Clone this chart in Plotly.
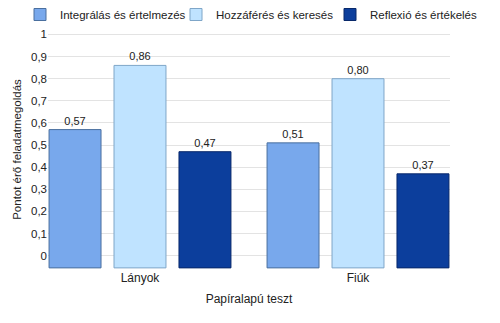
import plotly.graph_objects as go

categories = ["Lányok", "Fiúk"]
series_names = ["Integrálás és értelmezés", "Hozzáférés és keresés", "Reflexió és értékelés"]
integralas = [0.57, 0.51]
hozzaferes = [0.86, 0.80]
reflexio = [0.47, 0.37]
y_ticks = [0, 0.1, 0.2, 0.3, 0.4, 0.5, 0.6, 0.7, 0.8, 0.9, 1]
y_ticktext = ["0", "0,1", "0,2", "0,3", "0,4", "0,5", "0,6", "0,7", "0,8", "0,9", "1"]

colors = ["#78a8ec", "#bfe3ff", "#0c3e9c"]
line_colors = ["#4a6f9e", "#7fa6c8", "#08286a"]
legend_ids = ["legend", "legend2", "legend3"]
legend_x = [0.04, 0.352, 0.66]
BASE = -0.055

fig = go.Figure()
for name, vals, c, lc, lg in zip(series_names, [integralas, hozzaferes, reflexio], colors, line_colors, legend_ids):
    fig.add_trace(go.Bar(
        name=name,
        x=categories,
        y=[v - BASE for v in vals],
        base=BASE,
        marker=dict(color=c, line=dict(color=lc, width=1)),
        text=[f"{v:.2f}".replace(".", ",") for v in vals],
        textposition="outside",
        textfont=dict(size=11, color="#222222", family="Liberation Sans, Arial"),
        cliponaxis=False,
        legend=lg,
    ))

legend_common = dict(orientation="h", xref="container", y=1.0, yref="container",
                     yanchor="top", xanchor="left", font=dict(size=11.5),
                     itemwidth=30, bgcolor="rgba(0,0,0,0)")
fig.update_layout(
    width=500, height=323,
    margin=dict(l=48, r=50, t=30, b=54, autoexpand=False),
    paper_bgcolor="white", plot_bgcolor="white",
    barmode="group", bargap=0.106, bargroupgap=0.2,
    font=dict(family="Liberation Sans, Arial", size=12, color="#222222"),
    legend=dict(x=legend_x[0], **legend_common),
    legend2=dict(x=legend_x[1], **legend_common),
    legend3=dict(x=legend_x[2], **legend_common),
    showlegend=True,
)
fig.update_yaxes(range=[-0.06, 1.02], tickvals=y_ticks, ticktext=y_ticktext,
                 showgrid=True, gridcolor="#e3e3e3", zeroline=False,
                 ticks="", tickfont=dict(size=11.5),
                 title=dict(text="Pontot érő feladatmegoldás", font=dict(size=11.5), standoff=6))
fig.update_xaxes(range=[-0.422, 1.422], showgrid=False, showline=False, ticks="",
                 tickfont=dict(size=12),
                 title=dict(text="Papíralapú teszt", font=dict(size=12), standoff=10))

fig.write_html("out.html")
